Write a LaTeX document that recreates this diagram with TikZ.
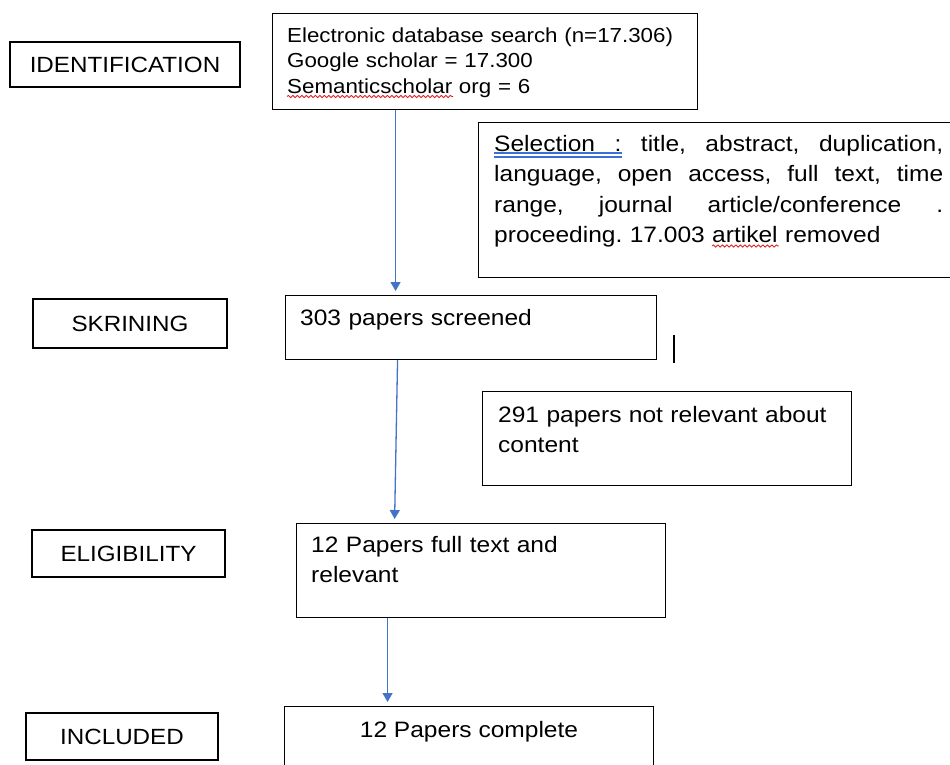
\documentclass[tikz,border=0pt]{standalone}
\usepackage{fontspec}
\setmainfont{Liberation Sans}[FakeStretch=1.1]
\usetikzlibrary{arrows.meta, decorations.pathmorphing}

\definecolor{arrowblue}{HTML}{4472C4}
\definecolor{squigred}{HTML}{E02020}
\definecolor{gramblue}{HTML}{3A6FD8}

\newcommand{\stagefont}{\fontsize{22}{26}\selectfont}
\newcommand{\boxfont}{\fontsize{22.3}{30.5}\selectfont\frenchspacing}
\newcommand{\searchfont}{\fontsize{20.3}{25.5}\selectfont}
\newcommand{\jline}[1]{\leavevmode\hbox to 449pt{#1}}

\begin{document}
\begin{tikzpicture}[x=1pt, y=-1pt,
	stage/.style={draw, line width=1.1pt, inner sep=0pt, font=\stagefont},
	infobox/.style={draw, line width=1.1pt, anchor=north west, inner sep=0pt},
	infotext/.style={anchor=base west, inner sep=0pt, align=left, font=\boxfont},
	flow/.style={draw=arrowblue, line width=1.3pt, -{Triangle[width=10pt,length=9pt]}, shorten >=4pt},
	squiggle/.style={draw=squigred, line width=0.8pt, decorate, decoration={snake, amplitude=1.1pt, segment length=4.5pt}},
	gramline/.style={draw=gramblue, line width=1.1pt}]
	\useasboundingbox (0,0) rectangle (950,764);
	\clip (0,0) rectangle (950,764);
	% Stages on the left:
	\node[stage, minimum width=230pt, minimum height=45pt] (ident) at (125,64.5) {IDENTIFICATION};
	\node[stage, minimum width=194pt, minimum height=49pt] (skrin) at (130,323.5) {SKRINING};
	\node[stage, minimum width=193pt, minimum height=47pt] (elig) at (128.5,553.5) {ELIGIBILITY};
	\node[stage, minimum width=192pt, minimum height=47pt] (incl) at (122,736.5) {INCLUDED};
	% Boxes and their texts:
	\node[infobox, minimum width=425pt, minimum height=96pt] (search) at (272,13) {};
	\node[infotext, font=\searchfont, text width=405pt] (searchtxt) at (287,42) {Electronic database search (n=17.306)\\Google scholar = 17.300\\Semanticscholar org = 6};
	\node[infobox, minimum width=520pt, minimum height=155pt] (select) at (478,122) {};
	\node[infotext, text width=449pt] (selecttxt) at (494,151) {\jline{Selection\hfill:\hfill title,\hfill abstract,\hfill duplication,}\\\jline{language,\hfill open\hfill access,\hfill full\hfill text,\hfill time}\\\jline{range,\hfill journal\hfill article/conference\hfill .}\\proceeding. 17.003 artikel removed};
	\node[infobox, minimum width=371pt, minimum height=64pt] (screened) at (285,295) {};
	\node[infotext, text width=340pt] (screenedtxt) at (300,325) {303 papers screened};
	\node[infobox, minimum width=369pt, minimum height=94pt] (notrel) at (482,391) {};
	\node[infotext, text width=340pt] (notreltxt) at (498,422) {291 papers not relevant about\\content};
	\node[infobox, minimum width=369pt, minimum height=94pt] (fulltext) at (296,523) {};
	\node[infotext, text width=340pt] (fulltexttxt) at (311,552) {12 Papers full text and\\relevant};
	\node[infobox, minimum width=369pt, minimum height=100pt] (complete) at (284,706) {};
	\node[font=\boxfont, anchor=base, inner sep=0pt] (completetxt) at (469,737) {12 Papers complete};
	% Spelling marks under words:
	\draw[squiggle] (287,96.5) -- (453,96.5);
	\draw[squiggle] (712,246) -- (779,246);
	\draw[gramline] (494,153) -- (622,153);
	\draw[gramline] (494,157) -- (622,157);
	% Arrows:
	\draw[flow] ([xshift=-89.5pt]search.south) -- ([xshift=-89.5pt]search.south |- screened.north);
	\draw[flow] ([xshift=-73.5pt]screened.south) -- ([xshift=-86.5pt]fulltext.north);
	\draw[flow] ([xshift=-93.5pt]fulltext.south) -- ([xshift=-81.5pt]complete.north);
	% stray mark
	\draw[line width=1.3pt] (674,335) -- (674,363);
\end{tikzpicture}
\end{document}
